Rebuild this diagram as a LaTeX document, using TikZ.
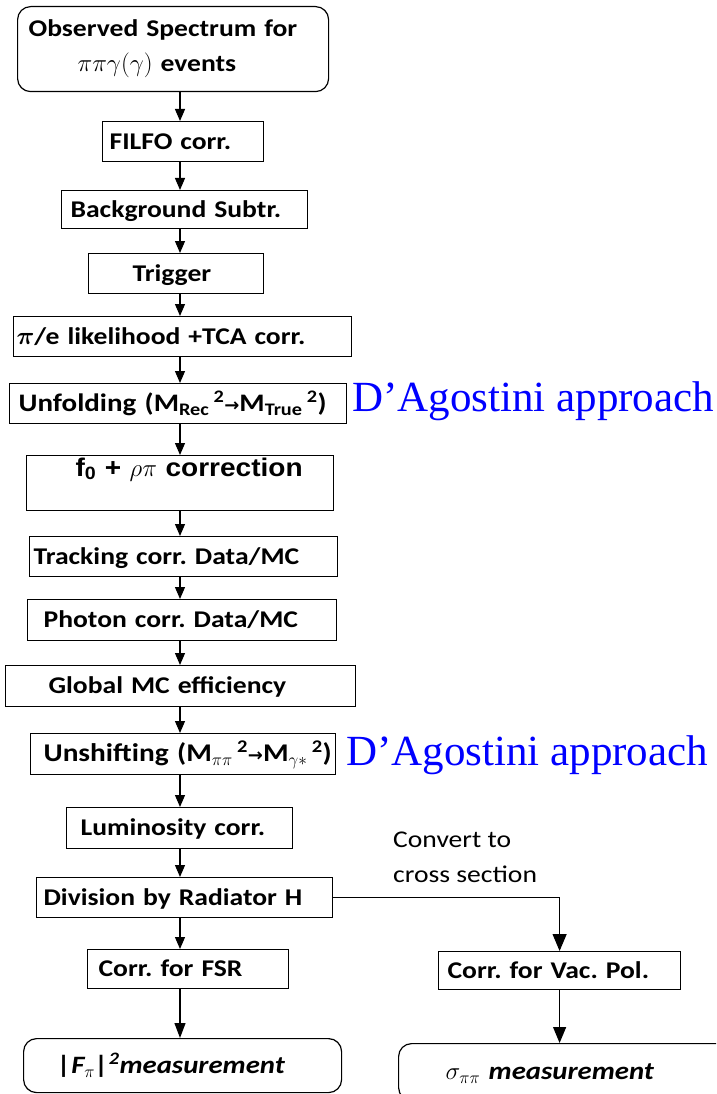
\documentclass[tikz,border=0pt]{standalone}
\usepackage{fontspec}
\usepackage{bm}
\setmainfont{Carlito}[FakeStretch=1.15]
\newfontfamily\arialb{Liberation Sans}[FakeStretch=1.1]
\newfontfamily\timesf{Liberation Serif}
\newfontfamily\djv{DejaVu Sans}
\usetikzlibrary{arrows.meta}
\newcommand{\rarr}{{\djv\bfseries\fontsize{18}{20}\selectfont →}}
\frenchspacing
\tikzset{
  box/.style={draw, line width=1.2pt, rectangle, anchor=north west, inner ysep=0pt,
    align=left, font=\bfseries\fontsize{24}{35}\selectfont, text height=15.5pt, text depth=0pt},
  rbox/.style={rounded corners=13pt},
  arr/.style={line width=1.2pt, -{Triangle[width=10pt,length=12pt]}},
  arrbig/.style={line width=1.2pt, -{Triangle[width=14pt,length=17pt]}},
  dag/.style={font=\timesf\fontsize{43}{50}\selectfont, text=blue, inner sep=0pt, anchor=base west},
  note/.style={font=\fontsize{24}{35}\selectfont, inner sep=0pt, anchor=base west},
}
\newcommand{\bx}[8][]{%
  \pgfmathsetmacro\tw{#4-#3-2*#7}%
  \node[box, #1, inner xsep=#7pt, text width=\tw pt, minimum height=(#6-#5)*1pt] (#2) at (#3,#5) {\mbox{#8}};%
}
\begin{document}
\begin{tikzpicture}[x=1pt, y=-1pt]
\clip (0,0) rectangle (716,1094);
\fill[white] (0,0) rectangle (716,1094);
\coordinate (ax) at (180,0);
% boxes
\pgfmathsetmacro\tw{328-17-2*11}
\node[draw, line width=1.2pt, rounded corners=13pt, anchor=north west, inner xsep=11pt, inner ysep=0pt,
  text width=\tw pt, minimum height=85pt, align=left, font=\bfseries\fontsize{24}{35}\selectfont]
  (obs) at (17,6) {Observed Spectrum for\\\hspace*{49pt}$\pi\pi\gamma(\gamma)$ events};
\bx{filfo}{102}{263}{121}{161}{7}{FILFO corr.}
\bx{bkg}{61}{307}{190}{228}{9}{Background Subtr.}
\bx{trig}{88}{263}{253}{293}{44}{Trigger}
\bx{pie}{13}{351}{316}{356}{3}{$\bm{\pi}$/e likelihood +TCA corr.}
\bx[font=\bfseries\fontsize{25.2}{35}\selectfont]{unf}{9}{346}{383}{423}{9}{Unfolding (M\textsubscript{Rec}\,\textsuperscript{2}\rarr M\textsubscript{True}\,\textsuperscript{2})}
\bx[font=\arialb\bfseries\fontsize{25.5}{30}\selectfont, text height=18.5pt, text depth=32.5pt]{f0}{26}{333}{455}{510}{49}{f\textsubscript{0} + $\rho\pi$ correction}
\bx{trk}{29}{337}{536}{576}{4}{Tracking corr. Data/MC}
\bx{pho}{27}{336}{599}{640}{16}{Photon corr. Data/MC}
\bx{glob}{5}{355}{665}{706}{43}{Global MC efficiency}
\bx[font=\bfseries\fontsize{25.5}{35}\selectfont]{unsh}{30}{335}{733}{774}{13}{Unshifting (M$_{\pi\pi}$\,\textsuperscript{2}\rarr M$_{\gamma*}$\,\textsuperscript{2})}
\bx{lum}{66}{292}{807}{848}{14}{Luminosity corr.}
\bx{div}{36}{332}{877}{917}{7}{Division by Radiator H}
\bx{fsr}{87}{288}{949}{988}{11}{Corr. for FSR}
\bx{vac}{438}{680}{951}{989}{9}{Corr. for Vac. Pol.}
\bx[rbox, font=\bfseries\fontsize{25}{35}\selectfont]{fmeas}{23}{341}{1038}{1092}{34}{\itshape |F\textsubscript{$\pi$}|\textsuperscript{2}measurement}
\bx[rbox, font=\bfseries\fontsize{25}{35}\selectfont]{smeas}{398}{730}{1043}{1100}{47}{$\sigma_{\pi\pi}$ \itshape measurement}
% side texts
\node[dag] (dag1) at (352,411) {D’Agostini approach};
\node[dag] (dag2) at (346,765) {D’Agostini approach};
\node[note] (conv1) at (393,847) {Convert to};
\node[note] (conv2) at (393,882) {cross section};
% connectors
\draw[arr] (obs.south -| ax) -- (filfo.north -| ax);
\draw[arr] (filfo.south -| ax) -- (bkg.north -| ax);
\draw[arr] (bkg.south -| ax) -- (trig.north -| ax);
\draw[arr] (trig.south -| ax) -- (pie.north -| ax);
\draw[arr] (pie.south -| ax) -- (unf.north -| ax);
\draw[arr] (unf.south -| ax) -- (f0.north -| ax);
\draw[arr] (f0.south -| ax) -- (trk.north -| ax);
\draw[arr] (trk.south -| ax) -- (pho.north -| ax);
\draw[arr] (pho.south -| ax) -- (glob.north -| ax);
\draw[arr] (glob.south -| ax) -- (unsh.north -| ax);
\draw[arr] (unsh.south -| ax) -- (lum.north -| ax);
\draw[arr] (lum.south -| ax) -- (div.north -| ax);
\draw[arr] (div.south -| ax) -- (fsr.north -| ax);
\draw[line width=1.2pt, -{Triangle[width=11pt,length=15pt]}] (fsr.south -| ax) -- (fmeas.north -| ax);
\draw[arrbig] (div.east) -| (vac.north);
\draw[line width=1.2pt, -{Triangle[width=13pt,length=16pt]}] (vac.south) -- (vac.south |- smeas.north);
\end{tikzpicture}
\end{document}
